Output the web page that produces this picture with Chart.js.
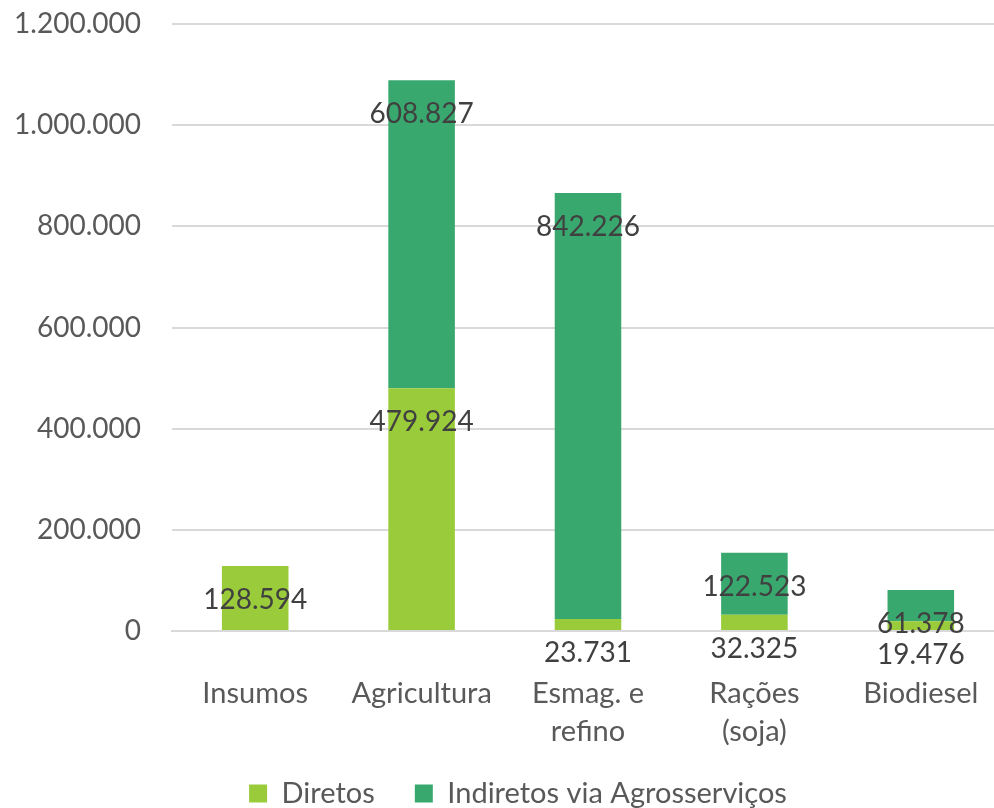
<!DOCTYPE html>
<html>
<head>
<meta charset="utf-8">
<script src="https://cdn.jsdelivr.net/npm/chart.js@4"></script>
<style>
  html, body { margin: 0; padding: 0; background: #fff; overflow: hidden; }
  #wrap { width: 994px; height: 808px; overflow: hidden; }
</style>
</head>
<body>
<div id="wrap"><canvas id="myChart" width="1004" height="808"></canvas></div>
<script>
// Empregos por elo da cadeia da soja
const categorias = ['Insumos', 'Agricultura', ['Esmag. e', 'refino'], ['Rações', '(soja)'], 'Biodiesel']
const diretos = [128594, 479924, 23731, 32325, 19476]
const indiretos = [null, 608827, 842226, 122523, 61378]
const yTicks = [0, 200000, 400000, 600000, 800000, 1000000, 1200000]

const fonte = "Lato"

function milhar(v) {
  return String(Math.round(v)).replace(/\B(?=(\d{3})+(?!\d))/g, '.')
}

// rótulos de valor dentro do topo de cada segmento
const rotulos = {
  id: 'rotulos',
  afterDatasetsDraw(chart) {
    const ctx = chart.ctx
    ctx.save()
    ctx.font = '28px ' + fonte
    ctx.fillStyle = '#404040'
    ctx.textAlign = 'center'
    ctx.textBaseline = 'middle'
    chart.data.datasets.forEach((ds, i) => {
      const meta = chart.getDatasetMeta(i)
      meta.data.forEach((bar, j) => {
        const v = ds.data[j]
        if (v == null) return
        ctx.fillText(milhar(v), bar.x, bar.y + 34)
      })
    })
    ctx.restore()
  }
}

// legenda compacta, desenhada um pouco acima e à direita
const ajusteLegenda = {
  id: 'ajusteLegenda',
  afterInit(chart) {
    const lg = chart.legend
    const fit = lg.fit
    lg.fit = function () { fit.call(this); this.height = 56 }
    const draw = lg.draw
    lg.draw = function () {
      this.left += 32; this.top -= 13
      draw.call(this)
      this.left -= 32; this.top += 13
    }
  }
}

const ctx = document.getElementById('myChart')

new Chart(ctx, {
  type: 'bar',
  data: {
    labels: categorias,
    datasets: [
      { label: 'Diretos', data: diretos, backgroundColor: '#9ACB3A' },
      { label: 'Indiretos via Agrosserviços', data: indiretos, backgroundColor: '#39A86F' }
    ]
  },
  options: {
    responsive: false,
    devicePixelRatio: 1,
    animation: false,
    layout: { padding: { top: 24, right: 0, bottom: 0, left: 0 } },
    datasets: { bar: { categoryPercentage: 1, barPercentage: 0.4 } },
    scales: {
      x: {
        stacked: true,
        afterFit(axis) { axis.height = 121; axis.paddingLeft = 0; axis.paddingRight = 0 },
        grid: { display: false, drawTicks: false },
        border: { color: '#D9D9D9', width: 2 },
        ticks: {
          color: '#595959',
          font: { family: fonte, size: 29, lineHeight: 1.31 },
          padding: 44,
          maxRotation: 0,
          autoSkip: false
        }
      },
      y: {
        stacked: true,
        min: 0,
        max: 1200000,
        afterBuildTicks(axis) { axis.ticks = yTicks.map(v => ({ value: v })) },
        afterFit(axis) { axis.width = 172; axis.paddingTop = 0; axis.paddingBottom = 0 },
        grid: { color: '#D9D9D9', lineWidth: 2, drawTicks: false },
        border: { display: false },
        ticks: {
          color: '#595959',
          font: { family: fonte, size: 28 },
          padding: 31,
          callback: v => milhar(v)
        }
      }
    },
    plugins: {
      tooltip: { enabled: false },
      legend: {
        position: 'bottom',
        labels: {
          color: '#595959',
          font: { family: fonte, size: 29 },
          boxWidth: 18,
          boxHeight: 18,
          padding: 40
        }
      }
    }
  },
  plugins: [rotulos, ajusteLegenda]
})
</script>
</body>
</html>
